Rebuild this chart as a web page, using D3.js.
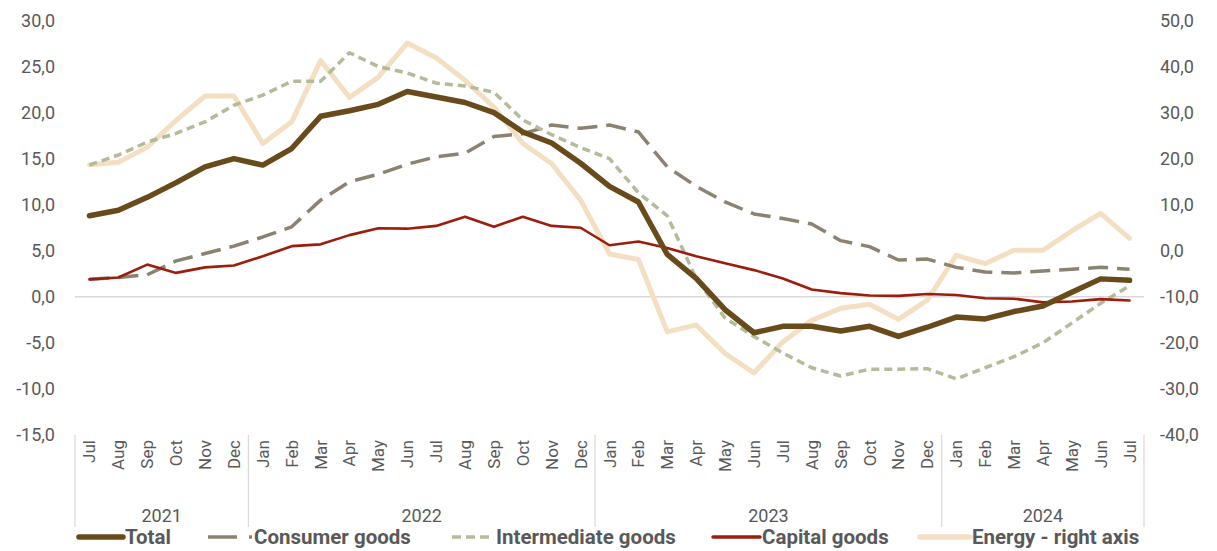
<!DOCTYPE html>
<html><head><meta charset="utf-8">
<script src="https://cdn.jsdelivr.net/npm/d3@7"></script>
<style>
html,body{margin:0;padding:0;background:#fff;}
svg text{font-family:"Liberation Sans Narrow","Arial Narrow","Roboto",sans-serif;fill:#595959;}
</style></head>
<body><svg id="c" width="1217" height="551"></svg>
<script>
const months = ["Jul","Aug","Sep","Oct","Nov","Dec",
  "Jan","Feb","Mar","Apr","May","Jun","Jul","Aug","Sep","Oct","Nov","Dec",
  "Jan","Feb","Mar","Apr","May","Jun","Jul","Aug","Sep","Oct","Nov","Dec",
  "Jan","Feb","Mar","Apr","May","Jun","Jul"];
const years = [{label:"2021",n:6},{label:"2022",n:12},{label:"2023",n:12},{label:"2024",n:7}];
const total = [8.8,9.4,10.8,12.4,14.1,15.0,14.3,16.1,19.6,20.2,20.9,22.3,
  21.7,21.1,20.0,17.9,16.7,14.5,12.0,10.3,4.6,2.0,-1.4,-3.9,-3.2,-3.2,-3.7,
  -3.2,-4.3,-3.3,-2.2,-2.4,-1.6,-1.0,0.5,1.95,1.8];
const consumer = [1.9,2.1,2.4,3.9,4.7,5.5,6.5,7.6,10.5,12.5,13.3,14.4,
  15.2,15.6,17.4,17.7,18.65,18.3,18.65,17.9,14.1,12.0,10.3,9.0,8.5,7.9,6.1,
  5.45,4.0,4.1,3.2,2.7,2.6,2.8,3.0,3.2,3.0];
const intermediate = [14.3,15.4,16.8,17.75,19.0,20.8,21.9,23.4,23.4,26.5,25.0,24.3,
  23.2,22.9,22.2,19.2,17.6,16.2,15.0,11.3,8.8,2.0,-2.3,-4.3,-6.1,-7.7,-8.6,
  -7.85,-7.85,-7.8,-8.9,-7.7,-6.5,-5.0,-2.85,-0.7,1.2];
const capital = [1.9,2.1,3.5,2.6,3.2,3.4,4.4,5.5,5.7,6.7,7.45,7.4,
  7.7,8.7,7.6,8.7,7.7,7.5,5.6,6.0,5.3,4.4,3.65,2.9,2.0,0.8,0.4,
  0.15,0.1,0.3,0.2,-0.15,-0.2,-0.6,-0.5,-0.25,-0.4];
const energy = [18.7,19.2,22.5,28.3,33.6,33.6,23.3,28.0,41.3,33.3,37.7,45.1,
  41.9,37.0,31.2,23.3,18.9,11.0,-0.7,-1.9,-17.6,-16.1,-22.3,-26.5,-19.8,-15.1,-12.5,
  -11.6,-14.9,-10.7,-1.0,-2.8,0.1,0.1,4.3,8.1,2.7];
const leftTicks = [-15,-10,-5,0,5,10,15,20,25,30];
const rightTicks = [-40,-30,-20,-10,0,10,20,30,40,50];
const seriesNames = ["Total","Consumer goods","Intermediate goods","Capital goods","Energy - right axis"];

const svg = d3.select("#c");
const L = 75, R = 1144, T = 20.5, B = 435;
const idx = d3.range(months.length);
const x = d3.scaleBand().domain(idx).range([L, R]).padding(0);
const cx = i => x(i) + x.bandwidth()/2;
const y = d3.scaleLinear().domain([-15,30]).range([B, T]);
const y2 = d3.scaleLinear().domain([-40,50]).range([B, T]);
const fmt = v => d3.format(".1f")(v).replace(".", ",").replace("−","-");

// left axis
const ga = svg.append("g").attr("transform",`translate(${L},0)`)
  .call(d3.axisLeft(y).tickValues(leftTicks).tickFormat(fmt).tickSize(0).tickPadding(20));
ga.select(".domain").remove();
ga.selectAll("text").style("font-size","18px").attr("fill","#595959");
// right axis
const gb = svg.append("g").attr("transform",`translate(${R},0)`)
  .call(d3.axisRight(y2).tickValues(rightTicks).tickFormat(fmt).tickSize(0).tickPadding(16));
gb.select(".domain").remove();
gb.selectAll("text").style("font-size","18px").attr("fill","#595959");

// zero line
svg.append("line").attr("x1",L).attr("x2",R).attr("y1",y(0)).attr("y2",y(0))
  .attr("stroke","#d9d9d9").attr("stroke-width",1.5);

// category separators
let acc = 0;
const bounds = [0];
years.forEach(g => { acc += g.n; bounds.push(acc); });
bounds.forEach(b => {
  const xx = b < months.length ? x(b) : R;
  svg.append("line").attr("x1",xx).attr("x2",xx).attr("y1",B).attr("y2",527)
    .attr("stroke","#d9d9d9").attr("stroke-width",1.2);
});
// month labels
svg.append("g").selectAll("text").data(idx).join("text")
  .attr("transform", i => `translate(${cx(i)+6},${440}) rotate(-90)`)
  .attr("text-anchor","end").style("font-size","17px").text(i => months[i]);
// year labels
acc = 0;
years.forEach(g => {
  const x0 = x(acc), x1 = (acc + g.n) < months.length ? x(acc+g.n) : R;
  svg.append("text").attr("x",(x0+x1)/2).attr("y",522).attr("text-anchor","middle")
    .style("font-size","18px").text(g.label);
  acc += g.n;
});

// lines
const line = yy => d3.line().x((d,i)=>cx(i)).y(d=>yy(d));
const styles = [
  {data:energy, sc:y2, color:"#f5dfc3", w:5, dash:null},
  {data:consumer, sc:y, color:"#8c8271", w:3.5, dash:"20,9"},
  {data:intermediate, sc:y, color:"#b3bc99", w:3.5, dash:"8,5"},
  {data:capital, sc:y, color:"#9c1d0b", w:2.6, dash:null},
  {data:total, sc:y, color:"#684a1b", w:5.5, dash:null}
];
styles.forEach(s => {
  svg.append("path").datum(s.data).attr("d", line(s.sc)).attr("fill","none")
    .attr("stroke", s.color).attr("stroke-width", s.w).attr("stroke-linejoin","round")
    .attr("stroke-linecap", s.dash ? "butt" : "round")
    .attr("stroke-dasharray", s.dash);
});

// legend
const leg = [
  {name:seriesNames[0], color:"#684a1b", w:5.5, dash:null, x1:79, x2:123, tx:125},
  {name:seriesNames[1], color:"#8c8271", w:3.5, dash:"29,12", x1:208, x2:252, tx:254},
  {name:seriesNames[2], color:"#b3bc99", w:3.5, dash:"9,5", x1:452, x2:492, tx:496},
  {name:seriesNames[3], color:"#9c1d0b", w:3.5, dash:null, x1:713, x2:760, tx:762},
  {name:seriesNames[4], color:"#f5dfc3", w:5.5, dash:null, x1:920, x2:970, tx:972}
];
const lg = svg.append("g");
leg.forEach(l => {
  lg.append("line").attr("x1",l.x1).attr("x2",l.x2).attr("y1",537).attr("y2",537)
    .attr("stroke",l.color).attr("stroke-width",l.w).attr("stroke-dasharray",l.dash)
    .attr("stroke-linecap", l.dash ? "butt" : "round");
  lg.append("text").attr("x",l.tx).attr("y",544).style("font-size","20.5px")
    .style("font-weight","bold").text(l.name);
});
</script></body></html>
